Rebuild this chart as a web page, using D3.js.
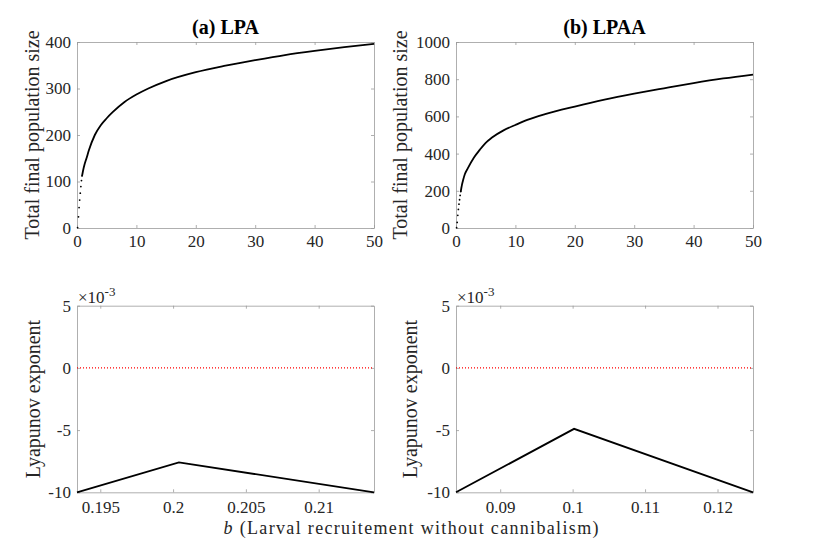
<!DOCTYPE html>
<html>
<head>
<meta charset="utf-8">
<script src="https://cdn.jsdelivr.net/npm/d3@7"></script>
<style>
  body { margin: 0; background: #fff; }
  svg text { font-family: "Liberation Serif", "DejaVu Serif", serif !important; }
  .tick text { fill: #262626; font-size: 17px; }
  .ax path, .ax line { stroke: #9a9a9a; stroke-width: 0.8; }
</style>
</head>
<body>
<svg id="chart"></svg>
<script>
// Top panels: total final population size vs b
const bLPA   = [0.1, 0.25, 0.35, 0.45, 0.55, 0.65, 0.75, 0.85, 1.0, 1.3, 1.6, 2, 3, 4, 5, 6, 8, 10, 12, 15, 20, 25, 30, 35, 40, 45, 50];
const popLPA = [1, 24, 44, 60, 75, 89, 102, 112, 122, 138, 150, 167, 200, 221, 236, 249, 271, 287, 300, 316, 335, 349, 361, 372, 381, 389, 396];

const bLPAA   = [0.1, 0.2, 0.3, 0.4, 0.5, 0.6, 0.7, 0.8, 0.9, 1.0, 1.2, 1.5, 2, 3, 4, 5, 6, 8, 10, 12, 15, 20, 25, 30, 35, 40, 45, 50];
const popLPAA = [2, 30, 68, 100, 128, 152, 175, 196, 215, 232, 258, 290, 322, 378, 420, 458, 485, 525, 554, 581, 612, 653, 690, 722, 751, 779, 804, 825];

// Bottom panels: Lyapunov exponent vs b
const bLyapLPA  = [0.1934, 0.2004, 0.2138];
const lyapLPA   = [-0.0100, -0.0076, -0.0100];
const bLyapLPAA = [0.0839, 0.1002, 0.1249];
const lyapLPAA  = [-0.0100, -0.0049, -0.0100];

// Tick labels
const popTicksLPA  = [0, 100, 200, 300, 400];
const popTicksLPAA = [0, 200, 400, 600, 800, 1000];
const bTicksTop    = [0, 10, 20, 30, 40, 50];
const bTicksLyapLPA  = [0.195, 0.2, 0.205, 0.21];
const bTicksLyapLPAA = [0.09, 0.1, 0.11, 0.12];
const lyapTicks    = [-0.01, -0.005, 0, 0.005];

const titles = ["(a) LPA", "(b) LPAA"];
const dotCut = 0.9; // below this b the points show as separate dots

const w = 830, h = 554;
const svg = d3.select("#chart").attr("width", w).attr("height", h);

function frame(g, x, y, xTicks, yTicks, xFmt, yFmt, xPad){
  const [x0, x1] = x.range();
  const [y1, y0] = y.range();
  g.append("g").attr("class", "ax").attr("transform", `translate(0,${y1})`)
    .call(d3.axisBottom(x).tickValues(xTicks).tickFormat(xFmt).tickSizeInner(-3).tickSizeOuter(0).tickPadding(xPad));
  g.append("g").attr("class", "ax").attr("transform", `translate(0,${y0})`)
    .call(d3.axisTop(x).tickValues(xTicks).tickFormat("").tickSizeInner(-3).tickSizeOuter(0));
  g.append("g").attr("class", "ax").attr("transform", `translate(${x0},0)`)
    .call(d3.axisLeft(y).tickValues(yTicks).tickFormat(yFmt).tickSizeInner(-3).tickSizeOuter(0).tickPadding(6));
  g.append("g").attr("class", "ax").attr("transform", `translate(${x1},0)`)
    .call(d3.axisRight(y).tickValues(yTicks).tickFormat("").tickSizeInner(-3).tickSizeOuter(0));
}

function ylabel(g, text, x, y){
  g.append("text")
   .attr("transform", `translate(${x},${y}) rotate(-90)`)
   .attr("text-anchor", "middle")
   .attr("font-size", 20)
   .attr("fill", "#262626")
   .text(text);
}

//Top panels
const topPanels = [
  {b: bLPA,  pop: popLPA,  yMax: 400,  yTicks: popTicksLPA,  left: 77,  labelX: 39},
  {b: bLPAA, pop: popLPAA, yMax: 1000, yTicks: popTicksLPAA, left: 456, labelX: 407}
];

topPanels.forEach((p, i) => {
  const x = d3.scaleLinear().domain([0, 50]).range([p.left, p.left + 297]);
  const y = d3.scaleLinear().domain([0, p.yMax]).range([228, 42]);
  const g = svg.append("g");
  frame(g, x, y, bTicksTop, p.yTicks, d3.format("d"), d3.format("d"), 7);

  const pts = p.b.map((v, k) => [v, p.pop[k]]);
  const line = d3.line().x(d => x(d[0])).y(d => y(d[1])).curve(d3.curveMonotoneX);
  g.append("path")
   .datum(pts.filter(d => d[0] >= dotCut - 0.1))
   .attr("d", line)
   .attr("fill", "none")
   .attr("stroke", "#000")
   .attr("stroke-width", 1.8);
  g.selectAll(".dot").data(pts.filter(d => d[0] < dotCut))
   .enter().append("circle")
   .attr("cx", d => x(d[0]))
   .attr("cy", d => y(d[1]))
   .attr("r", 0.9)
   .attr("fill", "#000");

  ylabel(g, "Total final population size", p.labelX, 135);

  g.append("text")
   .attr("x", p.left + 148.5)
   .attr("y", 34)
   .attr("text-anchor", "middle")
   .attr("font-size", 20)
   .attr("font-weight", "bold")
   .attr("fill", "#000")
   .text(titles[i]);
});

//Bottom panels
const botPanels = [
  {b: bLyapLPA,  l: lyapLPA,  xTicks: bTicksLyapLPA,  left: 77,  labelX: 40},
  {b: bLyapLPAA, l: lyapLPAA, xTicks: bTicksLyapLPAA, left: 456, labelX: 417}
];

botPanels.forEach(p => {
  const x = d3.scaleLinear().domain(d3.extent(p.b)).range([p.left, p.left + 297]);
  const y = d3.scaleLinear().domain([-0.01, 0.005]).range([492.3, 305.7]);
  const g = svg.append("g");
  frame(g, x, y, p.xTicks, lyapTicks, d3.format("~g"), d => String(Math.round(d * 1000)), 9);

  g.append("line")
   .attr("x1", x.range()[0]).attr("x2", x.range()[1])
   .attr("y1", y(0)).attr("y2", y(0))
   .attr("stroke", "#ff0000")
   .attr("stroke-width", 1.2)
   .attr("stroke-dasharray", "1,2");

  const pts = p.b.map((v, k) => [v, p.l[k]]);
  g.append("path")
   .datum(pts)
   .attr("d", d3.line().x(d => x(d[0])).y(d => y(d[1])))
   .attr("fill", "none")
   .attr("stroke", "#000")
   .attr("stroke-width", 1.8);

  ylabel(g, "Lyapunov exponent", p.labelX, 399);

  const ex = g.append("text")
   .attr("x", p.left + 1)
   .attr("y", 303)
   .attr("font-size", 17)
   .attr("fill", "#262626");
  ex.append("tspan").text("\u00d710");
  ex.append("tspan").attr("dy", -7).attr("font-size", 13).text("-3");
});

//x label
const xl = svg.append("text")
  .attr("x", 411)
  .attr("y", 534)
  .attr("text-anchor", "middle")
  .attr("font-size", 18)
  .attr("fill", "#262626")
  .attr("textLength", 375)
  .attr("lengthAdjust", "spacing");
xl.append("tspan").attr("font-style", "italic").text("b");
xl.append("tspan").text(" (Larval recruitement without cannibalism)");
</script>
</body>
</html>
